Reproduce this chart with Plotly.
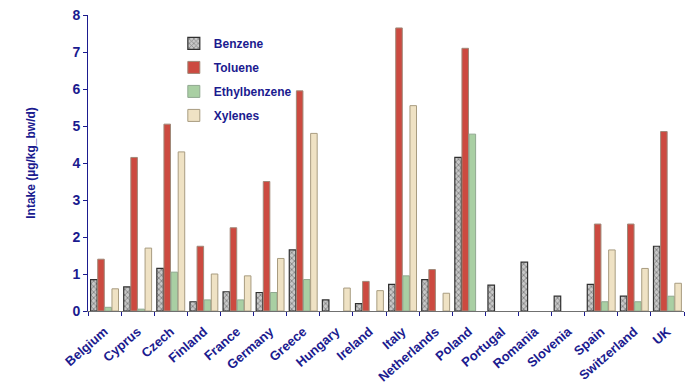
import plotly.graph_objects as go

countries = ["Belgium", "Cyprus", "Czech", "Finland", "France", "Germany", "Greece",
             "Hungary", "Ireland", "Italy", "Netherlands", "Poland", "Portugal",
             "Romania", "Slovenia", "Spain", "Switzerland", "UK"]
benzene = [0.85, 0.65, 1.15, 0.25, 0.52, 0.50, 1.65, 0.30, 0.20, 0.72, 0.85, 4.15,
           0.70, 1.32, 0.40, 0.72, 0.40, 1.75]
toluene = [1.40, 4.15, 5.05, 1.75, 2.25, 3.50, 5.95, None, 0.80, 7.65, 1.12, 7.10,
           None, None, None, 2.35, 2.35, 4.85]
ethylbenzene = [0.10, 0.05, 1.05, 0.30, 0.30, 0.50, 0.85, None, None, 0.95, None, 4.78,
                None, None, None, 0.25, 0.25, 0.40]
xylenes = [0.60, 1.70, 4.30, 1.00, 0.95, 1.42, 4.80, 0.62, 0.55, 5.55, 0.48, None,
           None, None, None, 1.65, 1.15, 0.75]

navy = "#1B1B8F"
fam = "Liberation Sans, Arial"
fig = go.Figure()
fig.add_trace(go.Bar(name="Benzene", x=countries, y=benzene, legendgroup="b",
                     marker=dict(color="#B8B8B8", line=dict(color="#303030", width=1.2),
                                 pattern=dict(shape="x", fgcolor="#404040", bgcolor="#C8C8C8", size=4, solidity=0.4))))
fig.add_trace(go.Bar(name="Toluene", x=countries, y=toluene, legendgroup="t",
                     marker=dict(color="#CC4A40", line=dict(color="#A08878", width=1))))
fig.add_trace(go.Bar(name="Ethylbenzene", x=countries, y=ethylbenzene, legendgroup="e",
                     marker=dict(color="#A9CFA3", line=dict(color="#90A890", width=1))))
fig.add_trace(go.Bar(name="Xylenes", x=countries, y=xylenes, legendgroup="x",
                     marker=dict(color="#EFE2C4", line=dict(color="#A89C80", width=1))))

fig.update_layout(
    width=691, height=381,
    margin=dict(l=80, r=15, t=7, b=78, autoexpand=False),
    plot_bgcolor="white", paper_bgcolor="white",
    barmode="group", bargap=0.14, bargroupgap=0.08,
    font=dict(family=fam, color=navy),
    legend=dict(x=0.144, y=0.953, xanchor="left", yanchor="top",
                font=dict(size=12, color=navy, family=fam, weight="bold"),
                bgcolor="rgba(0,0,0,0)", itemwidth=30, tracegroupgap=5),
    showlegend=True,
)
fig.update_yaxes(range=[0, 8], dtick=1, showgrid=False, zeroline=False, automargin=False,
                 showline=True, linecolor=navy, linewidth=1, ticks="outside",
                 ticklen=4, tickcolor=navy, ticklabeloverflow="allow",
                 tickfont=dict(size=14, color=navy, family=fam, weight="bold"),
                 title=dict(text="<b>Intake (µg/kg_bw/d)</b>", font=dict(size=12, color=navy), standoff=34))
fig.update_xaxes(showgrid=False, showline=True, linecolor="#707070", linewidth=1, automargin=False,
                 ticks="outside", tickson="boundaries", ticklen=4, tickcolor=navy,
                 tickangle=-41, ticklabelstandoff=7,
                 tickfont=dict(size=13, color=navy, family=fam, weight="bold"))

fig.write_html("out.html")
